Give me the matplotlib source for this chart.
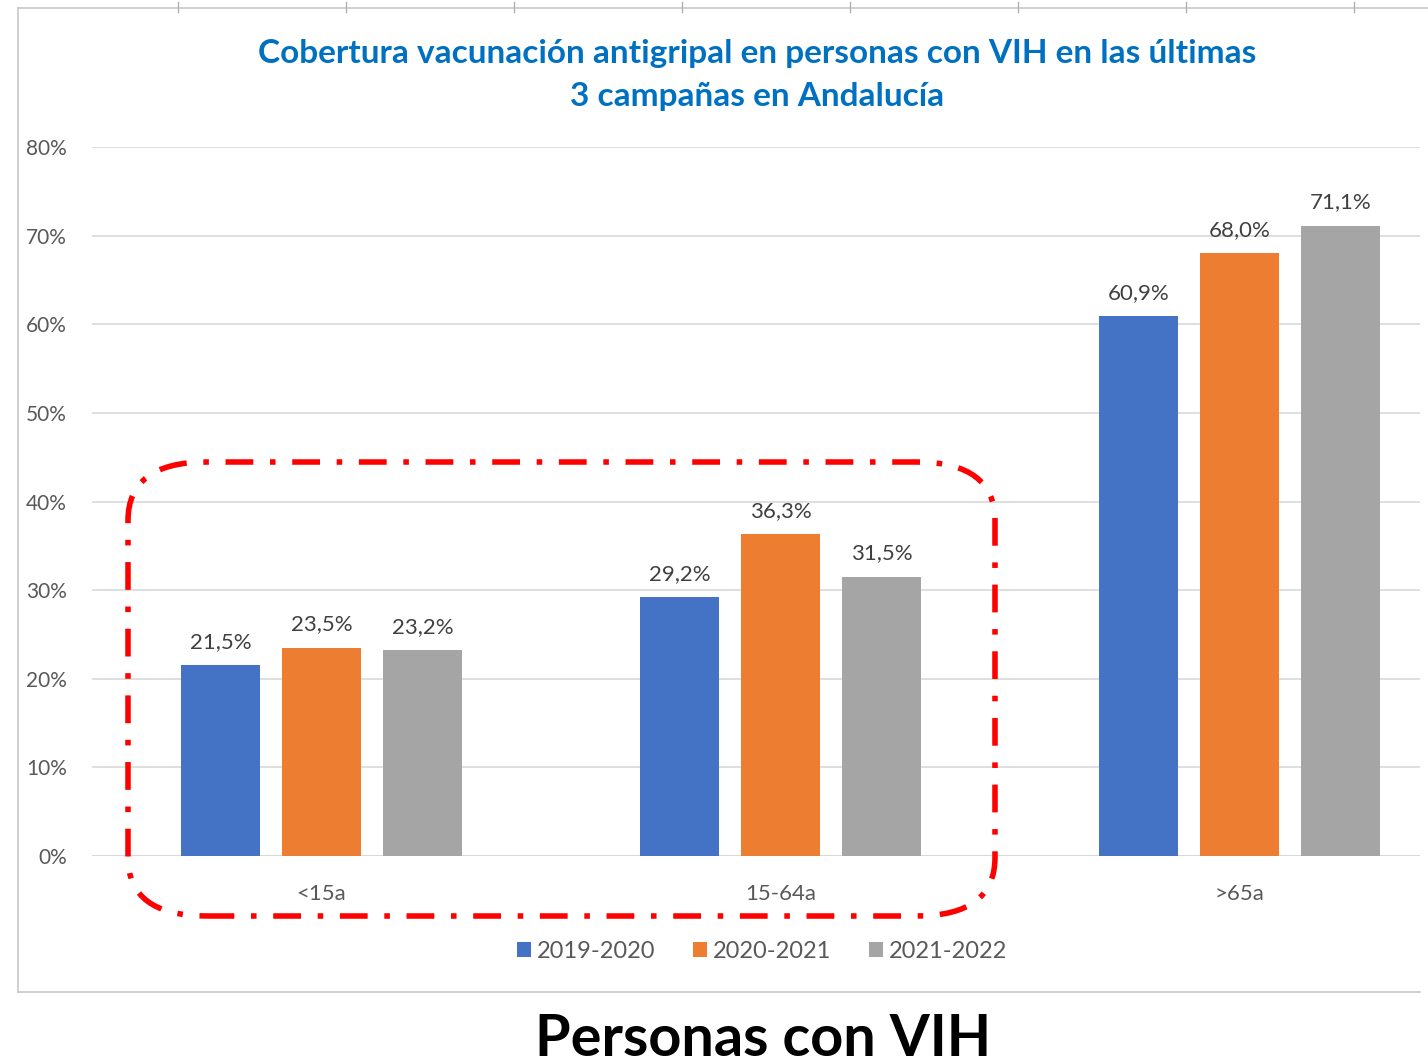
import numpy as np
import matplotlib.pyplot as plt
from matplotlib.patches import FancyBboxPatch
from matplotlib.lines import Line2D

# datos
grupos = ["<15a", "15-64a", ">65a"]
campanas = ["2019-2020", "2020-2021", "2021-2022"]
v_2019 = [21.5, 29.2, 60.9]
v_2020 = [23.5, 36.3, 68.0]
v_2021 = [23.2, 31.5, 71.1]
colores = ["#4472C4", "#ED7D31", "#A5A5A5"]

plt.rcParams['font.family'] = ['Lato', 'DejaVu Sans']

fig = plt.figure(figsize=(14.28, 10.64), dpi=100)
W, H = 1428, 1064

# marco de la hoja
fig.add_artist(Line2D([18 / W, 18 / W], [1 - 8 / H, 1 - 992 / H], color="#C8C8C8", lw=1.2))
fig.add_artist(Line2D([18 / W, 1 - 0 / W], [1 - 8 / H, 1 - 8 / H], color="#C8C8C8", lw=1.2))
fig.add_artist(Line2D([18 / W, 1420 / W], [1 - 992 / H, 1 - 992 / H], color="#C8C8C8", lw=1.2))
for xt in range(178, 1420, 168):
    fig.add_artist(Line2D([xt / W, xt / W], [1 - 2 / H, 1 - 12 / H], color="#B0B0B0", lw=1))

ax = fig.add_axes([92 / W, 1 - 856 / H, (1420 - 92) / W, (856 - 147) / H])

x = np.arange(len(grupos))
pitch = 0.22
ancho = 0.172
series = [v_2019, v_2020, v_2021]
for i, (vals, c, lab) in enumerate(zip(series, colores, campanas)):
    pos = x + (i - 1) * pitch
    ax.bar(pos, vals, width=ancho, color=c, label=lab, zorder=3)
    for p, v in zip(pos, vals):
        ax.text(p, v + 1.5, f"{v:.1f}%".replace(".", ","), ha="center", va="bottom",
                fontsize=16, color="#404040")

ax.set_ylim(0, 80)
ax.set_xlim(-0.5, 2.393)
ax.set_yticks(range(0, 81, 10))
ax.set_yticklabels([f"{t}%" for t in range(0, 81, 10)], fontsize=15, color="#595959")
ax.set_xticks(x)
ax.set_xticklabels(grupos, fontsize=16, color="#595959")
ax.tick_params(length=0)
ax.tick_params(axis="x", pad=20)
ax.tick_params(axis="y", pad=18)
ax.grid(axis="y", color="#D9D9D9", lw=1.2, zorder=0)
for s in ax.spines.values():
    s.set_visible(False)
ax.axhline(0, color="#D9D9D9", lw=1.5, zorder=2)

ax.legend(loc="center", bbox_to_anchor=(762 / W, 1 - 951 / H), bbox_transform=fig.transFigure,
          ncol=3, frameon=False, fontsize=17, handlelength=0.6, handleheight=0.6,
          handletextpad=0.25, columnspacing=1.6, labelcolor="#595959")

fig.text(757 / W, 1 - 75 / H, "Cobertura vacunación antigripal en personas con VIH en las últimas\n3 campañas en Andalucía",
         ha="center", va="center", fontsize=24, fontweight="bold", color="#0070C0", linespacing=1.6)

fig.text(763 / W, 1 - 1040 / H, "Personas con VIH", ha="center", va="center",
         fontsize=41.5, fontweight="bold", color="black")

# recuadro rojo
caja = FancyBboxPatch((128 / W, 1 - 916 / H), (995 - 128) / W, (916 - 462) / H,
                      boxstyle="round,pad=0,rounding_size=0.055", transform=fig.transFigure,
                      fill=False, edgecolor="#FF0000", lw=4, linestyle=(0, (5, 3, 1, 3)), zorder=10)
fig.add_artist(caja)

fig.savefig("out.png", dpi=100)
